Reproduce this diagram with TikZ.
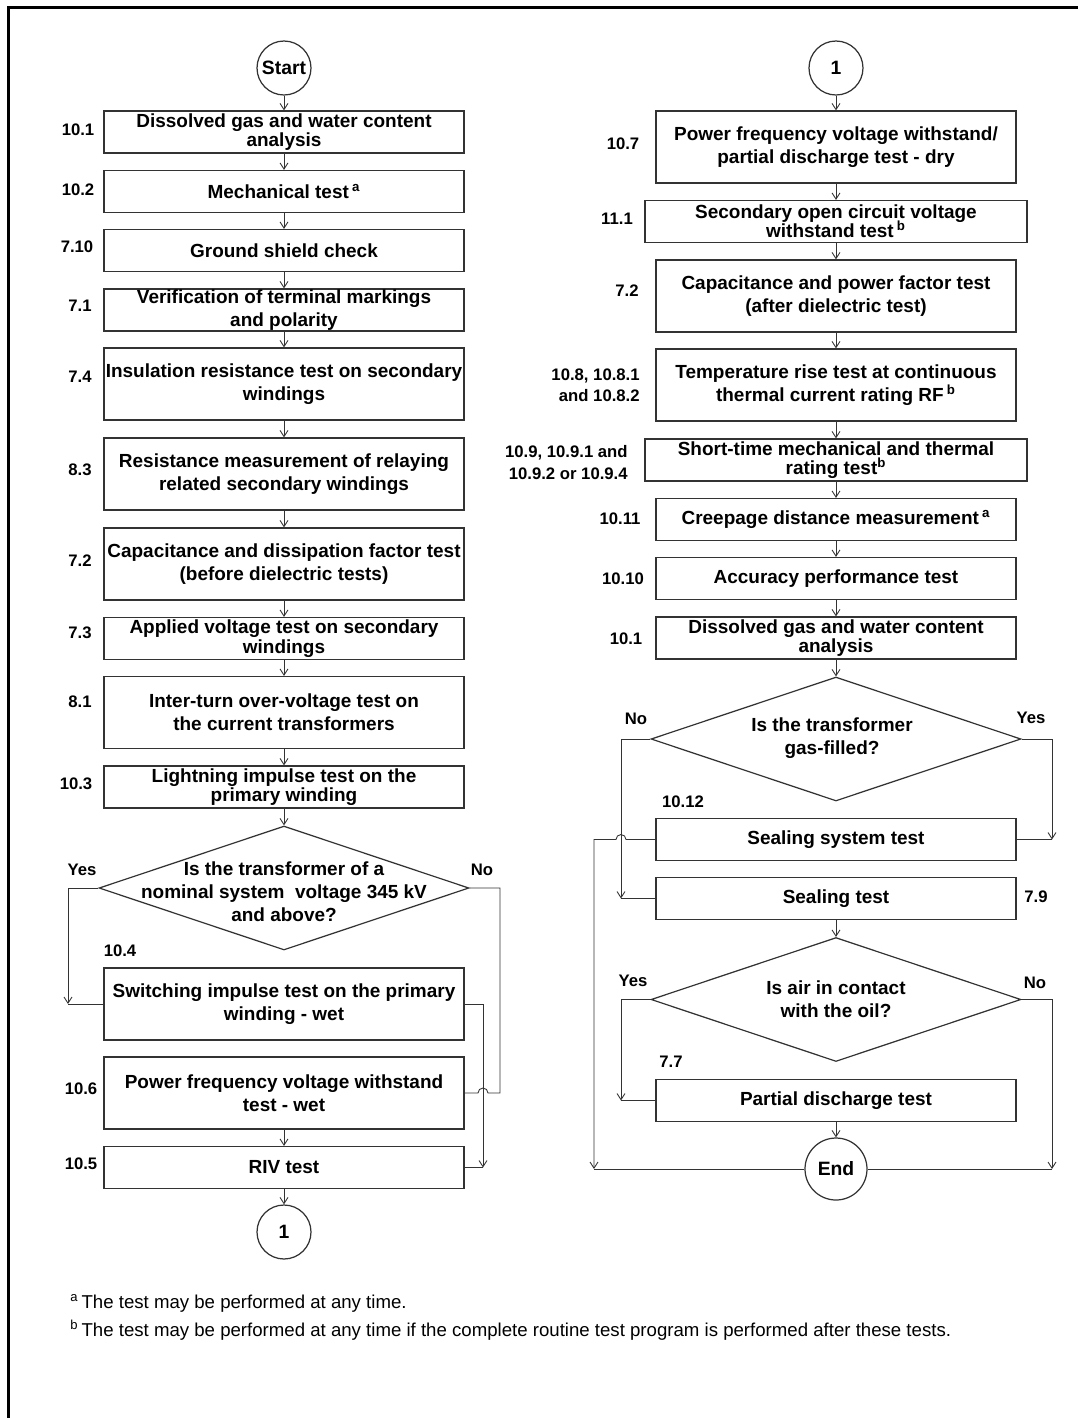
\documentclass[tikz,border=0pt]{standalone}
\usepackage{fontspec}
\setmainfont{Liberation Sans}
\usetikzlibrary{shapes.geometric,arrows.meta}

\tikzset{
  stepbox/.style={draw=black!80, line width=0.7pt, minimum width=7.2cm,
                  minimum height=0.84cm, inner sep=0pt, align=center,
                  font=\fontsize{10.8}{13}\selectfont\bfseries},
  tallbox/.style={stepbox, minimum height=1.44cm},
  widebox/.style={stepbox, minimum width=7.64cm},
  decide/.style={diamond, draw=black!80, line width=0.7pt, minimum width=7.4cm,
                 minimum height=2.48cm, inner sep=0pt},
  qtext/.style={align=center, inner sep=0pt, font=\fontsize{10.8}{13}\selectfont\bfseries},
  term/.style={circle, draw=black!80, line width=0.7pt, minimum size=1.08cm,
               inner sep=0pt, font=\fontsize{11}{13}\selectfont\bfseries},
  num/.style={align=right, inner sep=0pt, font=\fontsize{9.5}{12}\selectfont\bfseries},
  flow/.style={draw=black!80, line width=0.5pt,
               -{Straight Barb[length=3.5pt,width=4.5pt]}},
  wire/.style={draw=black!80, line width=0.5pt},
  note/.style={anchor=west, inner sep=0pt, font=\fontsize{10.6}{12}\selectfont}
}

\begin{document}
\begin{tikzpicture}[x=0.02cm, y=-0.02cm]
\useasboundingbox (0,0) rectangle (1078,1418);
\draw[line width=2pt] (8.5,1418) -- (8.5,7.5) -- (1078,7.5);

\node[term] (start) at (284,68) {Start};
\node[stepbox] (dga1) at (284,132) {Dissolved gas and water content\\[-2pt]analysis};
\node[stepbox] (mech) at (284,191.5) {Mechanical test\,\textsuperscript{a}};
\node[stepbox] (shield) at (284,250.5) {Ground shield check};
\node[stepbox] (mark) at (284,310) {Verification of terminal markings\\and polarity};
\node[tallbox] (insul) at (284,384) {Insulation resistance test on secondary\\windings};
\node[tallbox] (relres) at (284,474) {Resistance measurement of relaying\\related secondary windings};
\node[tallbox] (cap1) at (284,564) {Capacitance and dissipation factor test\\(before dielectric tests)};
\node[stepbox] (appv) at (284,638.5) {Applied voltage test on secondary\\[-2pt]windings};
\node[tallbox] (turn) at (284,712.5) {Inter-turn over-voltage test on\\the current transformers};
\node[stepbox] (light) at (284,787) {Lightning impulse test on the\\[-2pt]primary winding};
\node[decide] (q1) at (284,888) {};
\node[qtext] (q1t) at (284,892) {Is the transformer of a\\nominal system\ \ voltage 345 kV\\and above?};
\node[tallbox] (swi) at (284,1004) {Switching impulse test on the primary\\winding - wet};
\node[tallbox] (pfw) at (284,1093) {Power frequency voltage withstand\\test - wet};
\node[stepbox] (riv) at (284,1167.5) {RIV test};
\node[term] (con1) at (284,1232) {1};

\node[term] (con2) at (836,68) {1};
\node[tallbox] (pfd) at (836,147) {Power frequency voltage withstand/\\partial discharge test - dry};
\node[widebox] (socv) at (836,221.5) {Secondary open circuit voltage\\[-2pt]withstand test\,\textsuperscript{b}};
\node[tallbox] (cap2) at (836,296) {Capacitance and power factor test\\(after dielectric test)};
\node[tallbox] (temp) at (836,385) {Temperature rise test at continuous\\thermal current rating RF\,\textsuperscript{b}};
\node[widebox] (short) at (836,460) {Short-time mechanical and thermal\\[-2pt]rating test\textsuperscript{b}};
\node[stepbox] (creep) at (836,519.5) {Creepage distance measurement\,\textsuperscript{a}};
\node[stepbox] (acc) at (836,578.5) {Accuracy performance test};
\node[stepbox] (dga2) at (836,638) {Dissolved gas and water content\\[-2pt]analysis};
\node[decide] (q2) at (836,739) {};
\node[qtext] (q2t) at (832,738.5) {Is the transformer\\gas-filled?};
\node[stepbox] (sealsys) at (836,839.5) {Sealing system test};
\node[stepbox] (seal) at (836,898.5) {Sealing test};
\node[decide] (q3) at (836,999.5) {};
\node[qtext] (q3t) at (836,999.5) {Is air in contact\\with the oil?};
\node[stepbox] (pd) at (836,1100.5) {Partial discharge test};
\node[term, minimum size=1.24cm] (End) at (836,1169) {End};

\foreach \x/\y/\t [count=\k] in {78/130/10.1, 78/190/10.2, 77/247/7.10, 80/306/7.1,
    80/377/7.4, 80/470/8.3, 80/561/7.2, 80/633/7.3, 80/702/8.1, 76/784/10.3,
    120/951/10.4, 81/1089/10.6, 81/1164/10.5, 623/144/10.7, 617/219/11.1,
    627/291/7.2, 620/519/10.11, 623/579/10.10, 626/639/10.1, 683/802/10.12,
    1036/897/7.9, 671/1062/7.7}
  \node[num] (sec\k) at (\x,\y) {\t};
\node[num, anchor=east] (sec23) at (640,385.5) {10.8, 10.8.1\\and 10.8.2};
\node[num, anchor=east] (sec24) at (628,462.5) {10.9, 10.9.1 and\\10.9.2 or 10.9.4};

\foreach \x/\y/\t [count=\k] in {82/870/Yes, 482/870/No, 636/719/No, 1031/718/Yes,
    633/981/Yes, 1035/983/No}
  \node[num] (ans\k) at (\x,\y) {\t};

\foreach \a/\b in {start/dga1, dga1/mech, mech/shield, shield/mark, mark/insul,
    insul/relres, relres/cap1, cap1/appv, appv/turn, turn/light, light/q1,
    pfw/riv, riv/con1, con2/pfd, pfd/socv, socv/cap2, cap2/temp, temp/short,
    short/creep, creep/acc, acc/dga2, dga2/q2, seal/q3, pd/End}
  \draw[flow] (\a) -- (\b);

\coordinate (yes1) at (68,1004);
\coordinate (sw1) at (483,1167.5);
\coordinate (no2) at (621,898.5);
\coordinate (yes2) at (1052,839.5);
\coordinate (byp) at (594,1169);
\coordinate (yes3) at (621,1100.5);
\coordinate (no3) at (1052,1169);

\draw[flow] (q1.west) -| (yes1);
\draw[wire] (swi.west) -- (yes1);
\draw[wire] (q1.east) -| (500,1093) -- (488,1093) arc (0:-180:5) -- (pfw.east);
\draw[flow] (swi.east) -| (sw1);
\draw[wire] (riv.east) -- (sw1);

\draw[flow] (q2.west) -| (no2);
\draw[wire] (seal.west) -- (no2);
\draw[flow] (q2.east) -| (yes2);
\draw[wire] (sealsys.east) -- (yes2);
\draw[flow] (sealsys.west) -- (626,839.5) arc (0:-180:5) -| (byp);
\draw[wire] (End.west) -- (byp);
\draw[flow] (q3.west) -| (yes3);
\draw[wire] (pd.west) -- (yes3);
\draw[flow] (q3.east) -| (no3);
\draw[wire] (End.east) -- (no3);

\node[note] (fna) at (70,1303) {\textsuperscript{a}\,The test may be performed at any time.};
\node[note] (fnb) at (70,1330) {\textsuperscript{b}\,The test may be performed at any time if the complete routine test program is performed after these tests.};
\end{tikzpicture}
\end{document}
